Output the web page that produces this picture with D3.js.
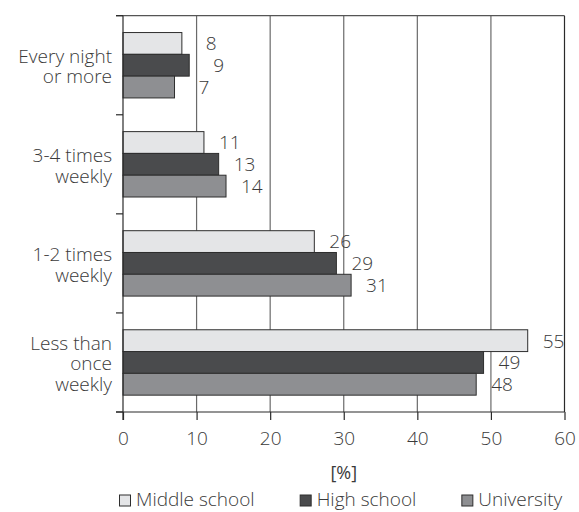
<!DOCTYPE html>
<html>
<head>
<meta charset="utf-8">
<script src="https://cdn.jsdelivr.net/npm/d3@7"></script>
<style>
  body { margin: 0; background: #fff; }
  text { font-family: "Open Sans", sans-serif; font-weight: 300; fill: #3a3a3a; }
</style>
</head>
<body>
<div id="chart"></div>
<script>
// data
const categories = ["Every night or more", "3-4 times weekly", "1-2 times weekly", "Less than once weekly"];
const categoryLines = [["Every night", "or more"], ["3-4 times", "weekly"], ["1-2 times", "weekly"], ["Less than", "once", "weekly"]];
const seriesNames = ["Middle school", "High school", "University"];
const middleSchool = [8, 11, 26, 55];
const highSchool = [9, 13, 29, 49];
const university = [7, 14, 31, 48];
const xTicks = [0, 10, 20, 30, 40, 50, 60];

const seriesValues = [middleSchool, highSchool, university];
const colors = ["#e4e5e7", "#4a4b4d", "#8e8f92"];

const W = 579, H = 512;
const plotLeft = 123, plotRight = 564.5, plotTop = 15.7, plotBottom = 412;
const fs = 19;

const svg = d3.select("#chart").append("svg")
  .attr("width", W)
  .attr("height", H);

// scales
const x = d3.scaleLinear().domain([0, 60]).range([plotLeft, plotRight]);
const pad = 0.34;
const y = d3.scaleBand().domain(categories).range([plotTop, plotBottom])
  .paddingInner(pad).paddingOuter(pad / 2);
const ySub = d3.scaleBand().domain(seriesNames).range([0, y.bandwidth()]);
const step = y.step();

// grid lines
svg.append("g")
  .selectAll("line")
  .data(xTicks.slice(1, -1))
  .join("line")
  .attr("x1", d => x(d)).attr("x2", d => x(d))
  .attr("y1", plotTop).attr("y2", plotBottom)
  .attr("stroke", "#6a6a6a")
  .attr("stroke-width", 1.2);

// bars
const rows = categories.map((c, i) => ({
  cat: c,
  values: seriesNames.map((s, j) => ({ cat: c, series: s, j: j, value: seriesValues[j][i] }))
}));

const groups = svg.selectAll(".group")
  .data(rows)
  .join("g")
  .attr("class", "group")
  .attr("transform", d => `translate(0,${y(d.cat)})`);

groups.selectAll("rect")
  .data(d => d.values)
  .join("rect")
  .attr("x", x(0))
  .attr("y", d => ySub(d.series))
  .attr("width", d => x(d.value) - x(0))
  .attr("height", ySub.bandwidth())
  .attr("fill", d => colors[d.j])
  .attr("stroke", "#2e2e2e")
  .attr("stroke-width", 1);

// value labels, small values sit a bit further out
groups.selectAll(".val")
  .data(d => d.values)
  .join("text")
  .attr("class", "val")
  .attr("x", d => x(d.value) + (d.value < 10 ? 24 : 15))
  .attr("y", d => ySub(d.series) + ySub.bandwidth() / 2)
  .attr("dy", "0.36em")
  .attr("font-size", fs)
  .text(d => d.value);

// frame: top line, right border
svg.append("line")
  .attr("x1", plotLeft - 7).attr("x2", plotRight)
  .attr("y1", plotTop).attr("y2", plotTop)
  .attr("stroke", "#555").attr("stroke-width", 1.2);
svg.append("line")
  .attr("x1", plotRight).attr("x2", plotRight)
  .attr("y1", plotTop).attr("y2", plotBottom)
  .attr("stroke", "#2a2a2a").attr("stroke-width", 1.2);

// y axis with ticks at band edges
const yEdges = categories.map(c => y(c) - step * pad / 2).concat([plotBottom]);
svg.append("line")
  .attr("x1", plotLeft).attr("x2", plotLeft)
  .attr("y1", plotTop).attr("y2", plotBottom + 8)
  .attr("stroke", "#2a2a2a").attr("stroke-width", 1.2);
svg.append("g")
  .selectAll("line")
  .data(yEdges)
  .join("line")
  .attr("x1", plotLeft - 7).attr("x2", plotLeft)
  .attr("y1", d => d).attr("y2", d => d)
  .attr("stroke", "#2a2a2a").attr("stroke-width", 1.2);

// category labels
const catLabels = svg.append("g")
  .selectAll("text")
  .data(categories)
  .join("text")
  .attr("text-anchor", "end")
  .attr("font-size", fs)
  .attr("y", d => y(d) + y.bandwidth() / 2 + 2);

catLabels.each(function(d, i) {
  const lines = categoryLines[i];
  const lh = 20.5;
  d3.select(this).selectAll("tspan")
    .data(lines)
    .join("tspan")
    .attr("x", plotLeft - 11)
    .attr("dy", (l, k) => k === 0 ? `${-(lines.length - 1) * lh / 2 + 6}px` : `${lh}px`)
    .text(l => l);
});

// x axis
const xAxis = svg.append("g")
  .attr("transform", `translate(0,${plotBottom})`)
  .call(d3.axisBottom(x).tickValues(xTicks).tickSize(8).tickPadding(12).tickSizeOuter(0));
xAxis.select(".domain").remove();
xAxis.selectAll(".tick line").attr("stroke", "#2a2a2a").attr("stroke-width", 1.2);
xAxis.selectAll(".tick text")
  .attr("font-size", fs)
  .attr("font-family", "'Open Sans', sans-serif")
  .attr("fill", "#3a3a3a");
svg.append("line")
  .attr("x1", plotLeft - 7).attr("x2", plotRight)
  .attr("y1", plotBottom).attr("y2", plotBottom)
  .attr("stroke", "#2a2a2a").attr("stroke-width", 1.2);

// axis title
svg.append("text")
  .attr("x", (plotLeft + plotRight) / 2)
  .attr("y", 479)
  .attr("text-anchor", "middle")
  .attr("font-size", 18)
  .style("font-weight", 400)
  .text("[%]");

// legend
const legend = svg.append("g").attr("transform", "translate(119,499.5)");
let lx = 0;
seriesNames.forEach((s, j) => {
  const item = legend.append("g").attr("transform", `translate(${lx},0)`);
  item.append("rect")
    .attr("x", 0.5).attr("y", -4.5)
    .attr("width", 11).attr("height", 11)
    .attr("fill", colors[j])
    .attr("stroke", "#2e2e2e");
  const t = item.append("text")
    .attr("x", 17)
    .attr("y", 0)
    .attr("dy", "0.36em")
    .attr("font-size", fs)
    .text(s);
  lx += 17 + t.node().getComputedTextLength() + 45;
});
</script>
</body>
</html>
